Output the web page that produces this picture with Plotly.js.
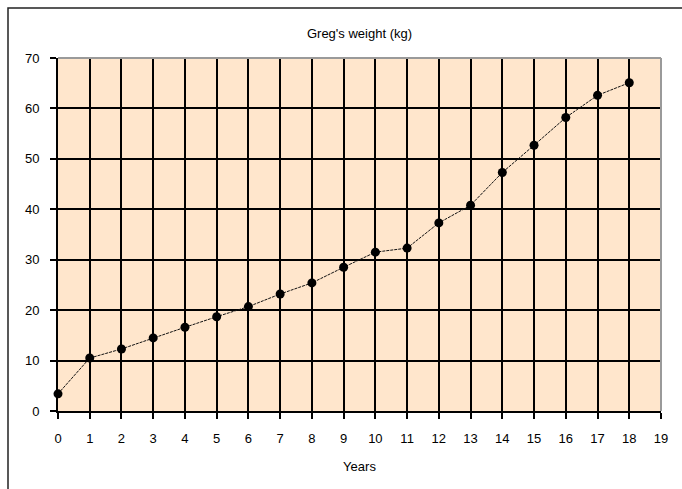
<!DOCTYPE html>
<html>
<head>
<meta charset="utf-8">
<script src="https://cdn.plot.ly/plotly-3.0.1.min.js"></script>
<style>html,body{margin:0;padding:0;background:#fff;}#chart{width:682px;height:489px;}</style>
</head>
<body>
<div id="chart"></div>
<script>
var years = [0,1,2,3,4,5,6,7,8,9,10,11,12,13,14,15,16,17,18];
var weightKg = [3.4,10.5,12.3,14.5,16.6,18.7,20.7,23.2,25.4,28.5,31.5,32.3,37.3,40.8,47.3,52.7,58.2,62.6,65.1];
var xTicks = [0,1,2,3,4,5,6,7,8,9,10,11,12,13,14,15,16,17,18,19];
var yTicks = [0,10,20,30,40,50,60,70];
var chartTitle = "Greg's weight (kg)";
var xTitle = "Years";

var font = {family: "Liberation Sans, Arial, sans-serif", size: 13, color: "#000"};

var trace = {
  x: years, y: weightKg, type: "scatter", mode: "lines+markers",
  line: {color: "#111", width: 1, dash: "3px,1px"},
  marker: {color: "#000", size: 9, symbol: "circle"},
  cliponaxis: false, hoverinfo: "skip"
};

var layout = {
  width: 682, height: 489,
  margin: {l: 58, r: 21, t: 58, b: 78},
  paper_bgcolor: "#fff", plot_bgcolor: "#FFE6CC",
  showlegend: false,
  title: {text: chartTitle, font: font, x: 0.5, xanchor: "center", xref: "paper", y: 1 - 33/489, yanchor: "middle"},
  xaxis: {
    range: [0, 19], tickvals: xTicks, ticktext: xTicks.map(String),
    showgrid: true, gridcolor: "#000", gridwidth: 2,
    zeroline: false, showline: true, linecolor: "#000", linewidth: 2,
    ticks: "outside", ticklen: 6, tickcolor: "#000", tickwidth: 2,
    ticklabelstandoff: 8,
    tickfont: font, fixedrange: true,
    title: {text: xTitle, font: font, standoff: 17}
  },
  yaxis: {
    range: [0, 70], tickvals: yTicks,
    showgrid: true, gridcolor: "#000", gridwidth: 2,
    zeroline: false, showline: true, linecolor: "#000", linewidth: 2,
    ticks: "outside", ticklen: 6, tickcolor: "#000", tickwidth: 2,
    ticklabelstandoff: 8,
    tickfont: font, fixedrange: true
  },
  shapes: [
    {type: "line", xref: "paper", yref: "paper", x0: 0, x1: 1, y0: 1, y1: 1, line: {color: "#9a9a9a", width: 2}, layer: "above"},
    {type: "line", xref: "paper", yref: "paper", x0: 1, x1: 1, y0: 0, y1: 1, line: {color: "#9a9a9a", width: 2}, layer: "above"},
    {type: "rect", xref: "paper", yref: "paper", x0: -50/603, x1: 1.1, y0: -0.3, y1: 403/353, line: {color: "#222", width: 1.5}, fillcolor: "rgba(0,0,0,0)", layer: "above"}
  ]
};

Plotly.newPlot("chart", [trace], layout, {displayModeBar: false, staticPlot: true});
</script>
</body>
</html>
